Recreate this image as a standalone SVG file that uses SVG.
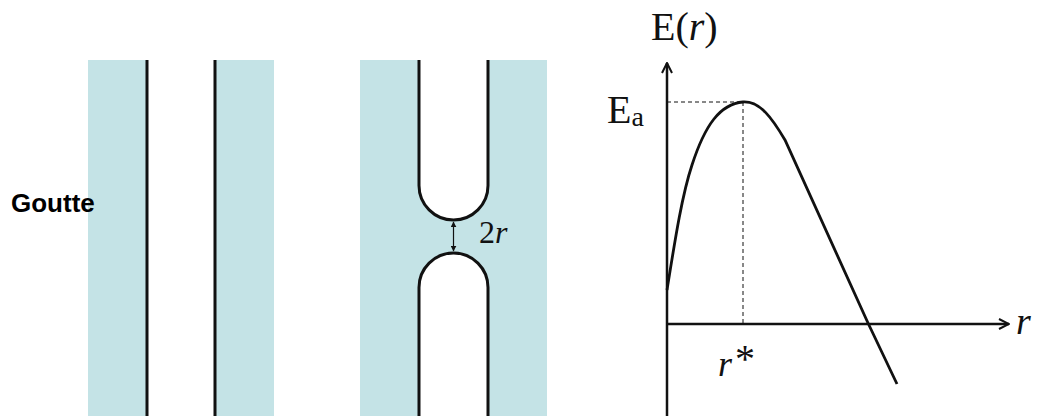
<svg xmlns="http://www.w3.org/2000/svg" width="1037" height="416" viewBox="0 0 1037 416">
<style>
.blue{fill:#c4e3e6}
.wall{fill:none;stroke:#111;stroke-width:3}
.ax{fill:none;stroke:#111;stroke-width:2.5}
.dash{fill:none;stroke:#111;stroke-width:1;stroke-dasharray:4 3}
.serif{font-family:"Liberation Serif","Times New Roman",serif;fill:#111}
.it{font-style:italic}
.lbl{font-family:"Liberation Sans",Arial,sans-serif;font-weight:bold;fill:#000}
</style>
<defs>
<marker id="ah" viewBox="0 0 10 10" refX="9" refY="5" markerWidth="6" markerHeight="6" orient="auto-start-reverse" markerUnits="userSpaceOnUse">
<path d="M0,0 L10,5 L0,10 z" fill="#111"/>
</marker>
<marker id="open" viewBox="0 0 12 12" refX="11" refY="6" markerWidth="12" markerHeight="12" orient="auto" markerUnits="userSpaceOnUse">
<path d="M1,1 L11,6 L1,11" fill="none" stroke="#111" stroke-width="2"/>
</marker>
</defs>
<rect width="1037" height="416" fill="#fff"/>
<g id="panel-separated">
<rect class="blue" x="88" y="60" width="59" height="356"/>
<rect class="blue" x="215" y="60" width="59" height="356"/>
<line class="wall" x1="147" y1="60" x2="147" y2="416"/>
<line class="wall" x1="215" y1="60" x2="215" y2="416"/>
</g>
<g id="goutte-label"><text class="lbl" x="11" y="212" font-size="26">Goutte</text></g>
<g id="panel-bridge">
<rect class="blue" x="360" y="60" width="187" height="356"/>
<path d="M419,60 V185.5 A34.5,34.5 0 0 0 488,185.5 V60 Z" fill="#fff"/>
<path d="M419,416 V287.5 A34.5,34.5 0 0 1 488,287.5 V416 Z" fill="#fff"/>
<path class="wall" d="M419,60 V185.5 A34.5,34.5 0 0 0 488,185.5 V60"/>
<path class="wall" d="M419,416 V287.5 A34.5,34.5 0 0 1 488,287.5 V416"/>
<text class="serif" x="479" y="243" font-size="32">2<tspan class="it">r</tspan></text>
</g>
<g id="connectors">
<line x1="453.5" y1="222" x2="453.5" y2="251" stroke="#111" stroke-width="1.2" marker-start="url(#ah)" marker-end="url(#ah)"/>
</g>
<g id="graph">
<line class="ax" x1="667" y1="416" x2="667" y2="63" marker-end="url(#open)"/>
<line class="ax" x1="667" y1="324" x2="1009" y2="324" marker-end="url(#open)"/>
<line class="dash" x1="667" y1="102" x2="743" y2="102"/>
<line class="dash" x1="743" y1="102" x2="743" y2="324"/>
<path d="M667,290 C675,240 682,195 692,165 C705,125 720,104 743,102 C760,101 772,118 785,140 L868,323 L897,384" fill="none" stroke="#111" stroke-width="2.8"/>
<text class="serif" x="651" y="40" font-size="40">E(<tspan class="it">r</tspan>)</text>
<text class="serif" x="607" y="123" font-size="40">E<tspan font-size="28" dy="3">a</tspan></text>
<text class="serif it" x="1016" y="334" font-size="38">r</text>
<text class="serif" x="718" y="376" font-size="36"><tspan class="it">r</tspan><tspan dx="3" font-size="40" dy="-4">*</tspan></text>
</g>
</svg>
